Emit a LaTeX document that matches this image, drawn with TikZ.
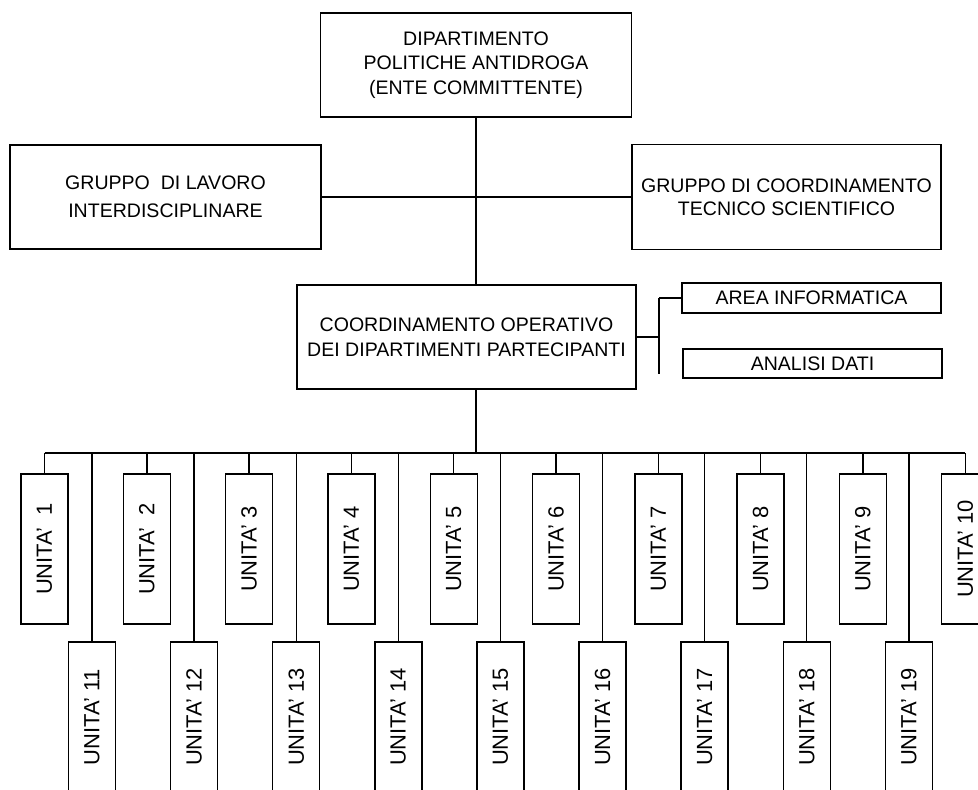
\documentclass[tikz,border=0pt]{standalone}
\usepackage{fontspec}
\setmainfont{Liberation Sans}
\usetikzlibrary{calc}

\newcommand{\px}{0.025cm}

\begin{document}
\begin{tikzpicture}[x=\px, y=-\px, line width=1pt,
  box/.style={draw, inner sep=0pt, outer sep=0pt, align=center,
    font=\fontsize{13.9}{17.4}\selectfont},
  unitbox/.style={draw, inner sep=0pt, outer sep=0pt,
    minimum width=47*\px, minimum height=150*\px,
    font=\fontsize{15.6}{18}\selectfont}]
	\useasboundingbox (0,0) rectangle (978,789);
	\clip (0,0) rectangle (978,789);

	% committente
	\node[box, minimum width=311*\px, minimum height=104*\px] (dpa) at (476,65)
	  {DIPARTIMENTO\\POLITICHE ANTIDROGA\\(ENTE COMMITTENTE)};

	% gruppi di lavoro e coordinamento
	\node[box, minimum width=311*\px, minimum height=104*\px,
	  font=\fontsize{13.9}{19.9}\selectfont] (lavoro) at (165.5,197)
	  {GRUPPO~ DI LAVORO\\INTERDISCIPLINARE};
	\node[box, minimum width=309*\px, minimum height=105*\px,
	  font=\fontsize{13.9}{16.5}\selectfont] (tecnico) at (786.5,197)
	  {GRUPPO DI COORDINAMENTO\\TECNICO SCIENTIFICO};

	% coordinamento operativo
	\node[box, minimum width=339*\px, minimum height=104*\px,
	  font=\fontsize{13.9}{17.8}\selectfont] (coord) at (466.5,337)
	  {COORDINAMENTO OPERATIVO\\DEI DIPARTIMENTI PARTECIPANTI};
	\node[box, minimum width=259*\px, minimum height=30*\px] (info) at (811.5,298)
	  {AREA INFORMATICA};
	\node[box, minimum width=259*\px, minimum height=29*\px] (dati) at (812.5,363.5)
	  {ANALISI DATI};

	% unita' operative
	\foreach \i in {1,...,10}
	  \node[unitbox] (u\i) at ({44.5+102.3*(\i-1)},549)
	    {\rotatebox{90}{UNITA'\ifnum\i<3~\fi{} \i}};
	\foreach \i in {11,...,19}
	  \node[unitbox] (u\i) at ({92+102.1*(\i-11)},717)
	    {\rotatebox{90}{UNITA' \i}};

	\coordinate (bus) at (476,453);
	\coordinate (fork) at (659,298);
	\coordinate (forkend) at (659,374);

	% linee
	\draw (dpa.south) -- (dpa.south |- coord.north);
	\draw (lavoro.east) -- (tecnico.west);
	\draw (coord.east) -- (coord.east -| fork);
	\draw (fork) -- (forkend);
	\draw (fork) -- (info.west);
	\draw (coord.south -| bus) -- (bus);
	\draw (u1.north |- bus) -- (u10.north |- bus);
	\foreach \i in {1,...,19}
	  \draw (u\i.north |- bus) -- (u\i.north);
\end{tikzpicture}
\end{document}
